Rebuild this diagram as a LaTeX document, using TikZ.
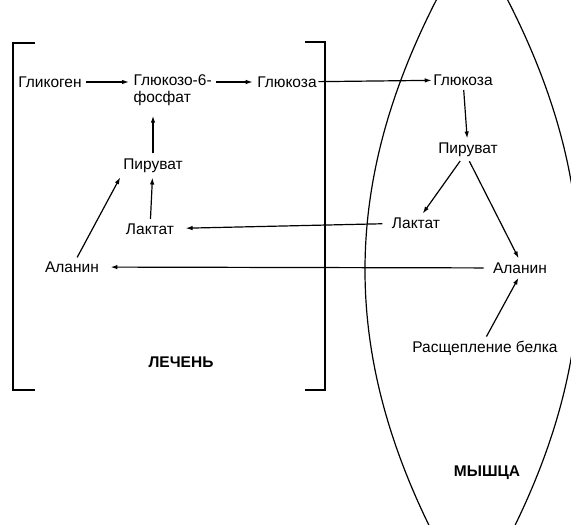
\documentclass[tikz,border=0pt]{standalone}
\usepackage{fontspec}
\setmainfont{Liberation Sans}
\usepackage{tikz}
\usetikzlibrary{arrows.meta}

\begin{document}
\begin{tikzpicture}[x=1pt, y=-1pt, line width=1.2pt,
  lbl/.style={font=\fontsize{15.5}{17.5}\selectfont, inner sep=1pt},
  organ/.style={font=\fontsize{15.5}{17.5}\selectfont\bfseries, inner sep=1pt},
  arr/.style={-{Latex[length=7pt,width=4.5pt]}}]
\useasboundingbox (0,0) rectangle (571,525);
%liver bracket
\draw (35,43) -- (13,43) -- (13,390) -- (35,390);
\draw (305,42) -- (325,42) -- (325,390) -- (305,390);
%muscle
\begin{scope}
\clip (0,0) rectangle (571,525);
\draw (470,-60) .. controls (330,170) and (330,370) .. (470,600);
\draw (474,-60) .. controls (614,170) and (614,370) .. (474,600);
\end{scope}
\node[lbl] (glikogen) at (50,82) {Гликоген};
\node[lbl, align=left, anchor=north west] (g6p) at (132,73) {Глюкозо-6-\\фосфат};
\node[lbl] (glukozaL) at (287,82) {Глюкоза};
\node[lbl] (piruvatL) at (153,166) {Пируват};
\node[lbl] (laktatL) at (150,229) {Лактат};
\node[lbl] (alaninL) at (72,267) {Аланин};
\node[lbl] (glukozaM) at (463,80) {Глюкоза};
\node[lbl] (piruvatM) at (468,150) {Пируват};
\node[lbl] (laktatM) at (416,223) {Лактат};
\node[lbl] (alaninM) at (520,268) {Аланин};
\node[lbl] (belok) at (485,348) {Расщепление белка};
\node[organ] (liver) at (181,362) {ЛЕЧЕНЬ};
\node[organ] (muscle) at (487,473) {МЫШЦА};
\draw[arr, shorten <=3pt, shorten >=3pt] (glikogen) -- (glikogen -| g6p.west);
\draw[arr, shorten <=3pt, shorten >=3pt] (g6p.north east |- glukozaL) -- (glukozaL);
\draw[arr] (glukozaL) -- (glukozaM);
\draw[arr, shorten <=4pt, shorten >=8pt] (piruvatL.north) -- (piruvatL.north |- g6p.south);
\draw[arr, shorten <=3pt, shorten >=3pt] (laktatL) -- (piruvatL);
\draw[arr, shorten <=3pt, shorten >=3pt] (alaninL) -- (piruvatL.south west);
\draw[arr, shorten <=8pt, shorten >=10pt] (laktatM) -- (laktatL);
\draw[arr, shorten <=8pt, shorten >=10pt] (alaninM) -- (alaninL);
\draw[arr, shorten <=3pt, shorten >=3pt] (glukozaM) -- (piruvatM);
\draw[arr, shorten <=3pt, shorten >=3pt] (piruvatM) -- (laktatM);
\draw[arr, shorten <=3pt, shorten >=3pt] (piruvatM.south) -- (alaninM.north);
\draw[arr, shorten <=3pt, shorten >=3pt] (belok.north) -- (alaninM.south);
\end{tikzpicture}
\end{document}
